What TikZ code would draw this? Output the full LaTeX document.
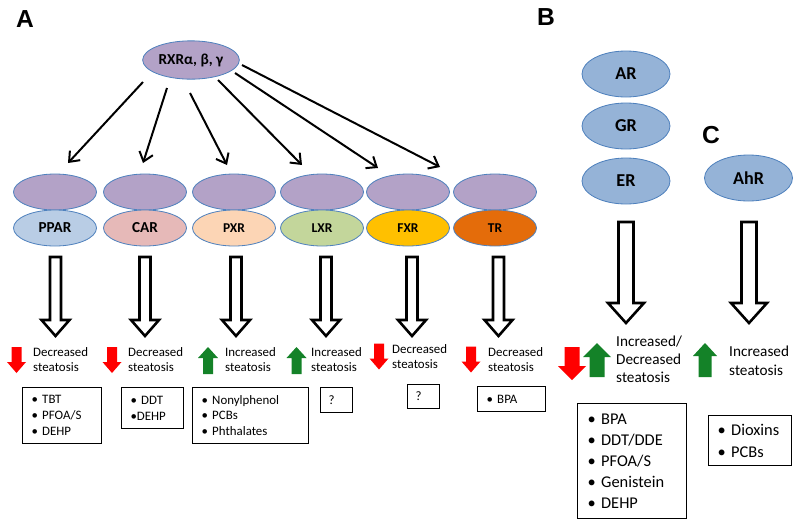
\documentclass[tikz,border=0pt]{standalone}
\usepackage{fontspec}
\setmainfont{Carlito}
\newfontfamily\panelfont{Liberation Sans}
\usepackage{tikz}
\usepackage{xcolor}
\definecolor{dimer}{RGB}{179,162,199}
\definecolor{rim}{RGB}{79,129,189}
\definecolor{steroid}{RGB}{149,179,215}
\definecolor{pparc}{RGB}{185,205,229}
\definecolor{carc}{RGB}{230,185,184}
\definecolor{pxrc}{RGB}{252,213,181}
\definecolor{lxrc}{RGB}{195,214,155}
\definecolor{fxrc}{RGB}{255,192,0}
\definecolor{trc}{RGB}{228,108,10}
\definecolor{upgreen}{RGB}{20,130,40}
\definecolor{downred}{RGB}{255,0,0}
\usetikzlibrary{shapes.geometric,arrows.meta}

\begin{document}
\begin{tikzpicture}[x=0.03cm,y=-0.03cm,
        receptor/.style={ellipse,draw=rim,line width=0.7pt,minimum width=2.49cm,minimum height=1.08cm,inner sep=0pt},
        bigrec/.style={receptor,fill=steroid,minimum width=2.64cm,minimum height=1.38cm,font=\bfseries\fontsize{15.5}{17}\selectfont},
        panel/.style={font=\panelfont\bfseries\fontsize{21}{21}\selectfont},
        stea/.style={anchor=west,align=left,inner sep=0pt,font=\fontsize{11}{12.8}\selectfont},
        steabig/.style={stea,font=\fontsize{13}{15.3}\selectfont},
        databox/.style={draw,line width=0.9pt,anchor=north west,align=left,inner ysep=2pt,inner xsep=0.27cm,font=\fontsize{11}{13.6}\selectfont},
        hollow/.style={draw=black,fill=white,line width=2.2pt,line join=miter},
        rxrarrow/.style={-{Straight Barb[length=7.5pt,width=12pt]},line width=1.7pt}]
        \useasboundingbox (0,0) rectangle (800,526);
        % panel letters
        \node[panel] (labA) at (25,19) {A};
        \node[panel] (labB) at (546,17) {B};
        \node[panel] (labC) at (711,135) {C};
        % RXR and the partners
        \node[receptor,fill=dimer,minimum width=2.9cm,minimum height=1.15cm,font=\bfseries\fontsize{13}{15}\selectfont] (rxr) at (191,60) {RXRα, β, γ};
        \foreach \x/\n in {55/d1,145/d2,234/d3,322/d4,408/d5,495/d6}
            \node[receptor,fill=dimer] (\n) at (\x,192) {};
        \node[receptor,fill=pparc,font=\bfseries\fontsize{13}{14}\selectfont] (ppar) at (55,228) {PPAR};
        \node[receptor,fill=carc,font=\bfseries\fontsize{13}{14}\selectfont] (car) at (145,228) {CAR};
        \node[receptor,fill=pxrc,font=\bfseries\fontsize{11.5}{13}\selectfont] (pxr) at (234,228) {PXR};
        \node[receptor,fill=lxrc,font=\bfseries\fontsize{11.5}{13}\selectfont] (lxr) at (322,228) {LXR};
        \node[receptor,fill=fxrc,font=\bfseries\fontsize{11.5}{13}\selectfont] (fxr) at (408,228) {FXR};
        \node[receptor,fill=trc,font=\bfseries\fontsize{11.5}{13}\selectfont] (tr) at (495,228) {TR};
        % arrows from RXR
        \coordinate (e1) at (68,163);
        \coordinate (e2) at (143,163);
        \coordinate (e3) at (227,165);
        \coordinate (e4) at (302,165);
        \coordinate (e5) at (378,168);
        \coordinate (e6) at (440,167);
        \draw[rxrarrow] ([shift={(-48,22)}]rxr.center) -- (e1);
        \draw[rxrarrow] ([shift={(-24,28)}]rxr.center) -- (e2);
        \draw[rxrarrow] ([shift={(-1,33)}]rxr.center) -- (e3);
        \draw[rxrarrow] ([shift={(27,20)}]rxr.center) -- (e4);
        \draw[rxrarrow] ([shift={(44,13)}]rxr.center) -- (e5);
        \draw[rxrarrow] ([shift={(51,5)}]rxr.center) -- (e6);
        % B and C receptors
        \node[bigrec] (ar) at (626,74) {AR};
        \node[bigrec] (gr) at (626,126) {GR};
        \node[bigrec] (er) at (626,181) {ER};
        \node[bigrec] (ahr) at (748.5,178) {AhR};
        % hollow arrows
        \foreach \x in {55.5,145,236,326,412,498.5}
            \draw[hollow] (\x-5.5,257) -- (\x+5.5,257) -- (\x+5.5,320) -- (\x+14,320) -- (\x,336) -- (\x-14,320) -- (\x-5.5,320) -- cycle;
        \foreach \x in {626,749}
            \draw[hollow] (\x-7.5,222) -- (\x+7.5,222) -- (\x+7.5,303) -- (\x+18,303) -- (\x,323) -- (\x-18,303) -- (\x-7.5,303) -- cycle;
        % red and green arrows
        \foreach \x/\y/\hw/\sw/\hh/\hd in {16.5/360/9.5/5/13/11,112/360/9.5/5/13/11,379/356.5/9.5/5/13/11,471/359.5/9.5/5/13/11,572/363.5/14/7.5/16.5/14}
            \fill[downred] (\x-\sw,\y-\hh) -- (\x+\sw,\y-\hh) -- (\x+\sw,\y+\hh-\hd) -- (\x+\hw,\y+\hh-\hd) -- (\x,\y+\hh) -- (\x-\hw,\y+\hh-\hd) -- (\x-\sw,\y+\hh-\hd) -- cycle;
        \foreach \x/\y/\hw/\sw/\hh/\hd in {208/360.5/10/5/13.5/11,296.5/360.5/10/5/13.5/11,597/360/14/7.5/17/14,705/360/12/6.5/17/13}
            \fill[upgreen] (\x-\sw,\y+\hh) -- (\x+\sw,\y+\hh) -- (\x+\sw,\y-\hh+\hd) -- (\x+\hw,\y-\hh+\hd) -- (\x,\y-\hh) -- (\x-\hw,\y-\hh+\hd) -- (\x-\sw,\y-\hh+\hd) -- cycle;
        % effect on steatosis
        \node[stea] (tppar) at (33,360) {Decreased\\steatosis};
        \node[stea] (tcar) at (128,360) {Decreased\\steatosis};
        \node[stea] (tpxr) at (225,360) {Increased\\steatosis};
        \node[stea] (tlxr) at (311,360) {Increased\\steatosis};
        \node[stea] (tfxr) at (392,357) {Decreased\\steatosis};
        \node[stea] (ttr) at (488,359.5) {Decreased\\steatosis};
        \node[steabig] (ter) at (616,359) {Increased/\\Decreased\\steatosis};
        \node[steabig,font=\fontsize{13}{16}\selectfont] (tahr) at (729,361) {Increased\\steatosis};
        % compounds
        \node[databox,text width=1.83cm,minimum height=1.68cm] (cppar) at (22,387) {• TBT\\• PFOA/S\\• DEHP};
        \node[databox,text width=1.32cm,minimum height=1.23cm] (ccar) at (121,387) {• DDT\\•DEHP};
        \node[databox,text width=2.94cm,minimum height=1.68cm] (cpxr) at (192,387) {• Nonylphenol\\• PCBs\\• Phthalates};
        \node[databox,inner xsep=0.24cm,text width=0.48cm,minimum height=0.75cm] (clxr) at (320,387) {?};
        \node[databox,inner xsep=0.24cm,text width=0.48cm,minimum height=0.72cm] (cfxr) at (407,384) {?};
        \node[databox,text width=1.5cm,minimum height=0.75cm] (ctr) at (477,386) {• BPA};
        \node[databox,inner xsep=0.3cm,text width=2.67cm,minimum height=3.45cm,font=\fontsize{14}{17.9}\selectfont] (cer) at (577,403) {• BPA\\• DDT/DDE\\• PFOA/S\\• Genistein\\• DEHP};
        \node[databox,text width=1.95cm,minimum height=1.5cm,font=\fontsize{14}{18.7}\selectfont] (cahr) at (708,415) {• Dioxins\\• PCBs};
\end{tikzpicture}
\end{document}
